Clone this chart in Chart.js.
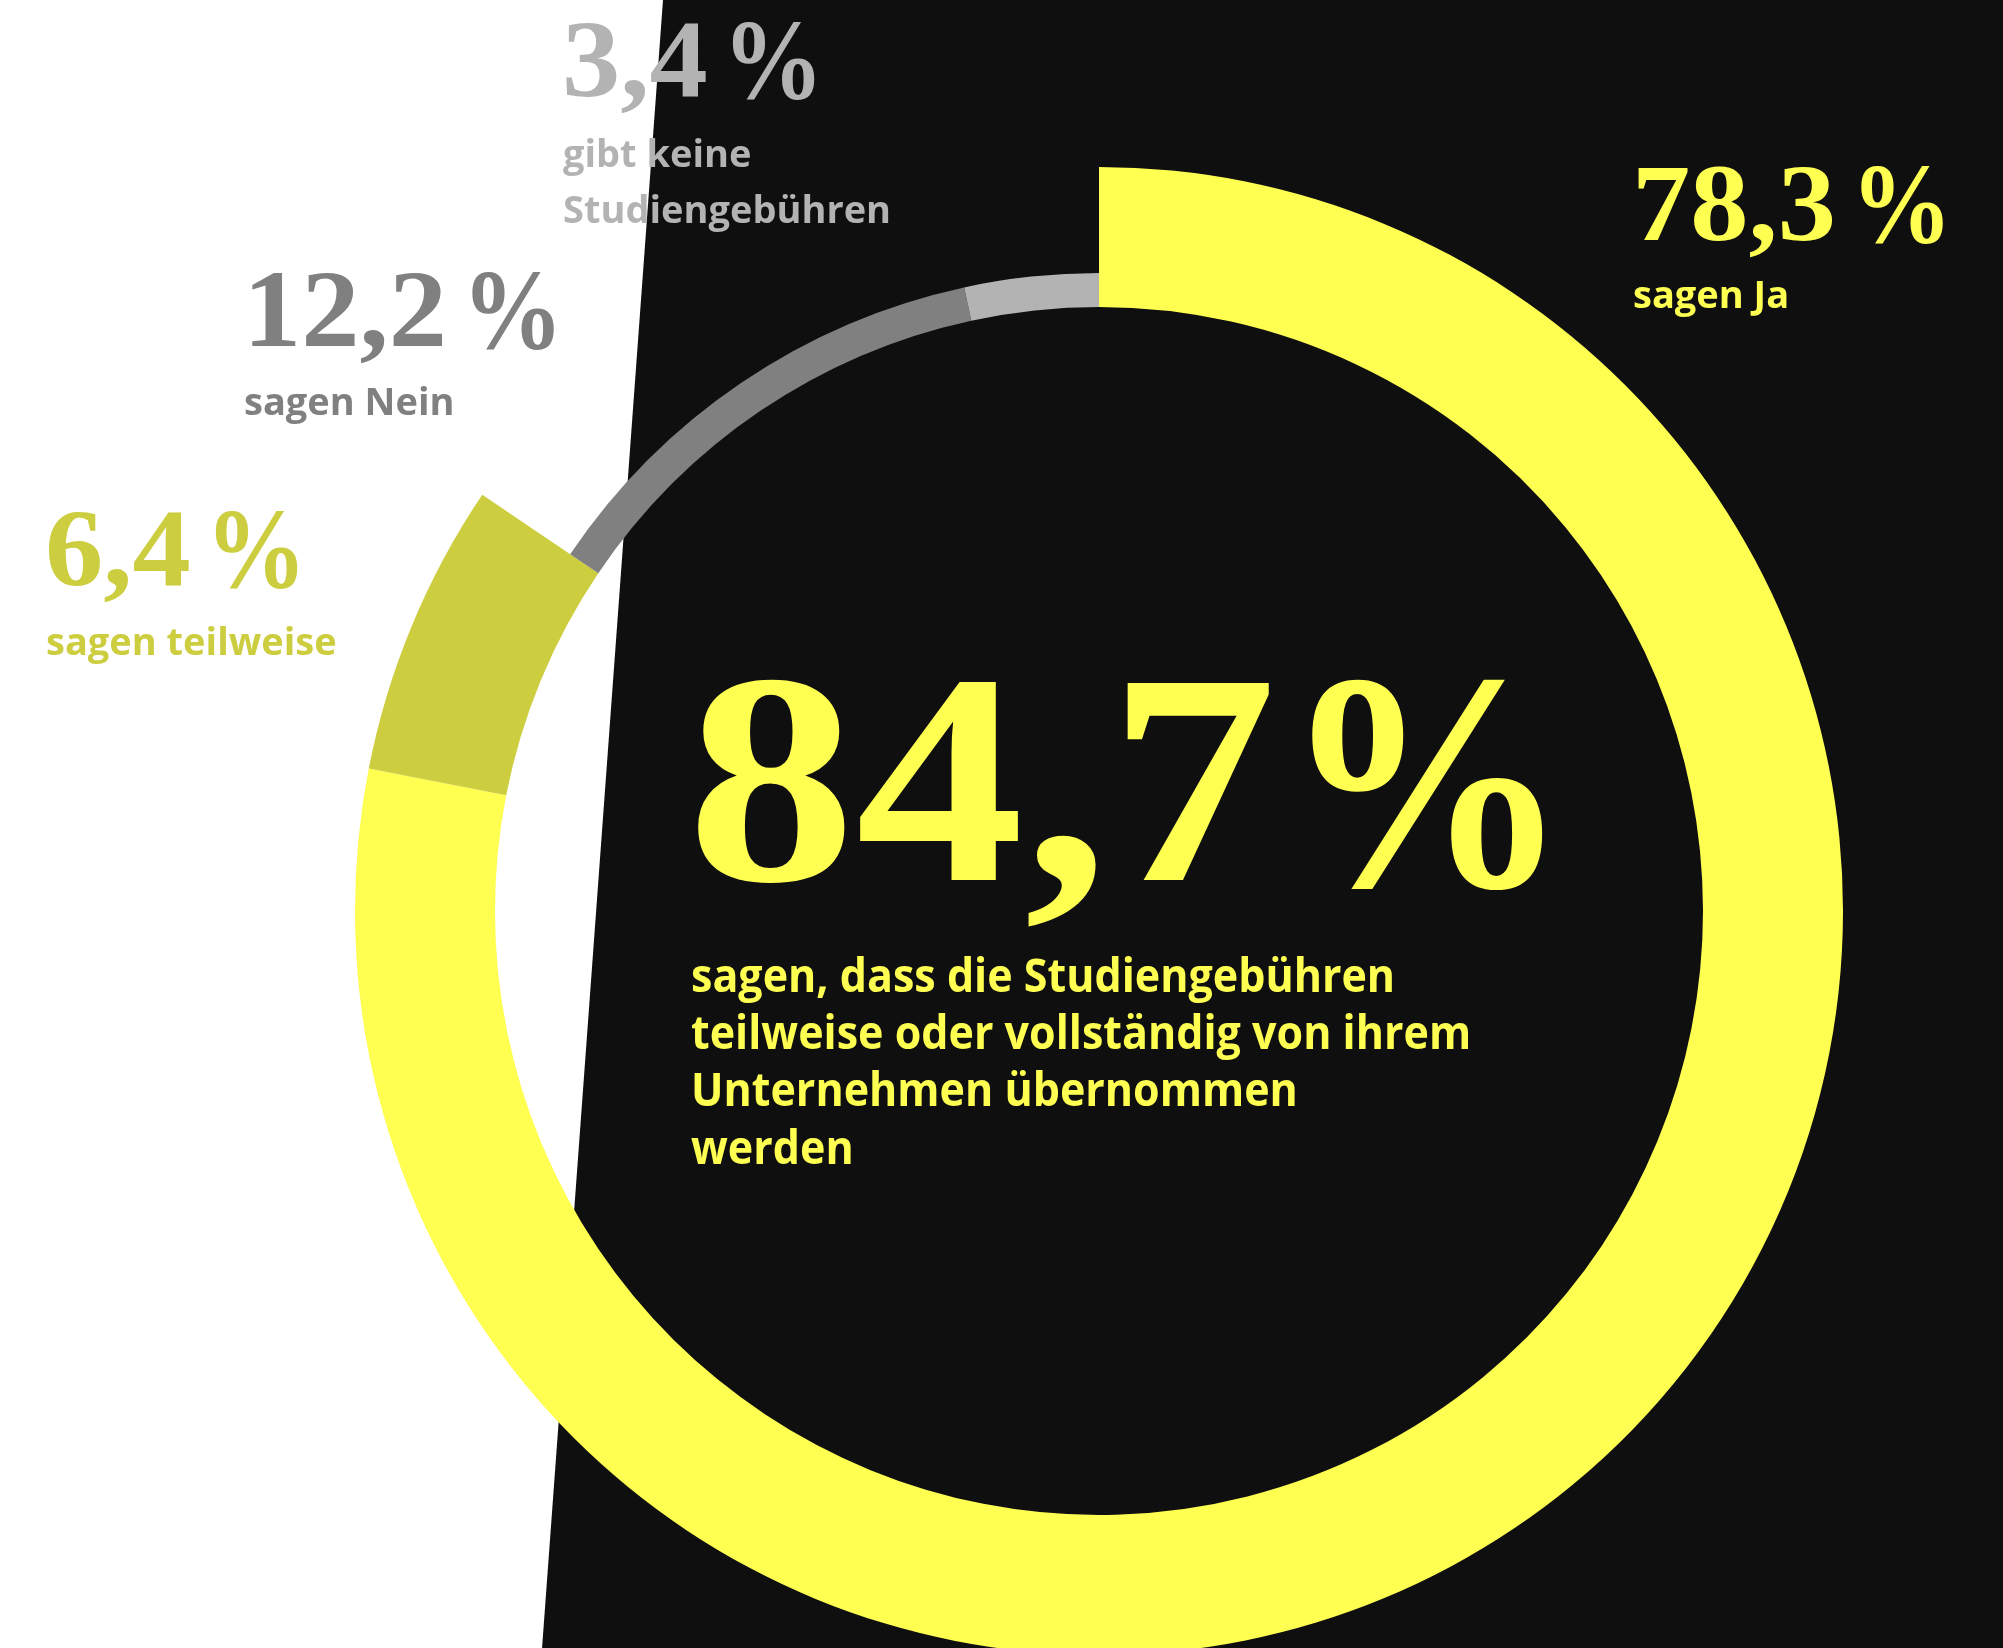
<!DOCTYPE html>
<html lang="de">
<head>
<meta charset="utf-8">
<title>Studiengebühren</title>
<script src="https://cdn.jsdelivr.net/npm/chart.js@4.4.1/dist/chart.umd.min.js"></script>
<style>
  html, body { margin: 0; padding: 0; background: #ffffff; overflow: hidden; }
  #wrap { position: absolute; left: 0; top: 0; width: 2003px; height: 1670px; }
</style>
</head>
<body>
<div id="wrap"><canvas id="chart"></canvas></div>
<script>
// Data
const categories = ['sagen Ja', 'sagen teilweise', 'sagen Nein', 'gibt keine Studiengebühren'];
const shares = [78.3, 6.4, 12.2, 3.4];
const shareLabels = ['78,3', '6,4', '12,2', '3,4'];
const totalLabel = '84,7';
const totalText = ['sagen, dass die Studiengebühren', 'teilweise oder vollständig von ihrem', 'Unternehmen übernommen', 'werden'];

const colors = ['#ffff52', '#cdcd40', '#808080', '#b3b3b3'];

// where each label sits: [x, baseline of number, baseline of first text line]
const labelPos = [
    [1632, 240, 308],
    [45, 585, 655],
    [243, 346, 415],
    [562, 96, 167]
];

const SERIF = '"Liberation Serif", "DejaVu Serif", serif';
const SANS = '"Open Sans", "Noto Sans", sans-serif';

// draws "12,2 %" style numbers: number stretched a bit, % a bit narrower
function drawNumber(ctx, text, x, y, size, color, sx, pctScale, gap) {
    ctx.save();
    ctx.font = 'bold ' + size + 'px ' + SERIF;
    ctx.fillStyle = color;
    ctx.textBaseline = 'alphabetic';
    ctx.translate(x, y);
    ctx.scale(sx, 1);
    ctx.fillText(text, 0, 0);
    const w = ctx.measureText(text).width;
    ctx.restore();

    ctx.save();
    ctx.font = 'bold ' + size + 'px ' + SERIF;
    ctx.fillStyle = color;
    ctx.translate(x + w * sx + size * gap, y + size * 0.02);
    ctx.scale(pctScale, 1.03);
    ctx.fillText('%', 0, 0);
    ctx.restore();
}

function drawLines(ctx, lines, x, y, size, lineH, color, sx) {
    ctx.save();
    ctx.font = 'bold ' + size + 'px ' + SANS;
    ctx.fillStyle = color;
    ctx.textBaseline = 'alphabetic';
    lines.forEach((line, i) => {
        ctx.save();
        ctx.translate(x, y + i * lineH);
        ctx.scale(sx, 1);
        ctx.fillText(line, 0, 0);
        ctx.restore();
    });
    ctx.restore();
}

// white page with the slanted black panel
const backdrop = {
    id: 'backdrop',
    beforeDraw(chart) {
        const ctx = chart.ctx;
        const w = chart.width, h = chart.height;
        ctx.save();
        ctx.fillStyle = '#ffffff';
        ctx.fillRect(0, 0, w, h);
        ctx.fillStyle = '#0f0f0f';
        ctx.beginPath();
        ctx.moveTo(663, 0);
        ctx.lineTo(w, 0);
        ctx.lineTo(w, h);
        ctx.lineTo(663 - 0.0734 * h, h);
        ctx.closePath();
        ctx.fill();
        ctx.restore();
    }
};

// the two "no / none" answers get a thin band only
const thinBand = {
    id: 'thinBand',
    afterDatasetUpdate(chart, args) {
        args.meta.data.forEach((arc, i) => {
            if (i >= 2) arc.outerRadius = arc.innerRadius + 34;
        });
    }
};

// labels round the ring and the big number in the middle
const annotations = {
    id: 'annotations',
    afterDraw(chart) {
        const ctx = chart.ctx;
        categories.forEach((cat, i) => {
            const [x, yNum, yText] = labelPos[i];
            drawNumber(ctx, shareLabels[i], x, yNum, 110, colors[i], 1.06, 0.92, 0.135);
            let lines = [cat];
            if (i === 3) lines = ['gibt keine', 'Studiengebühren'];
            drawLines(ctx, lines, x + 1, yText, 38, 56, colors[i], 1.0);
        });

        drawNumber(ctx, totalLabel, 687, 880, 301, colors[0], 1.12, 0.95, 0.02);
        drawLines(ctx, totalText, 691, 992, 46, 57.2, colors[0], 0.935);
    }
};

const ctx = document.getElementById('chart').getContext('2d');

new Chart(ctx, {
    type: 'doughnut',
    data: {
        labels: categories,
        datasets: [{
            data: shares,
            backgroundColor: colors,
            borderWidth: 0
        }]
    },
    options: {
        responsive: true,
        maintainAspectRatio: false,
        animation: false,
        cutout: 604,
        rotation: 0,
        layout: {
            padding: { left: 355, top: 167, right: 160, bottom: 15 }
        },
        plugins: {
            legend: { display: false },
            tooltip: { enabled: false }
        }
    },
    plugins: [backdrop, thinBand, annotations]
});
</script>
</body>
</html>
